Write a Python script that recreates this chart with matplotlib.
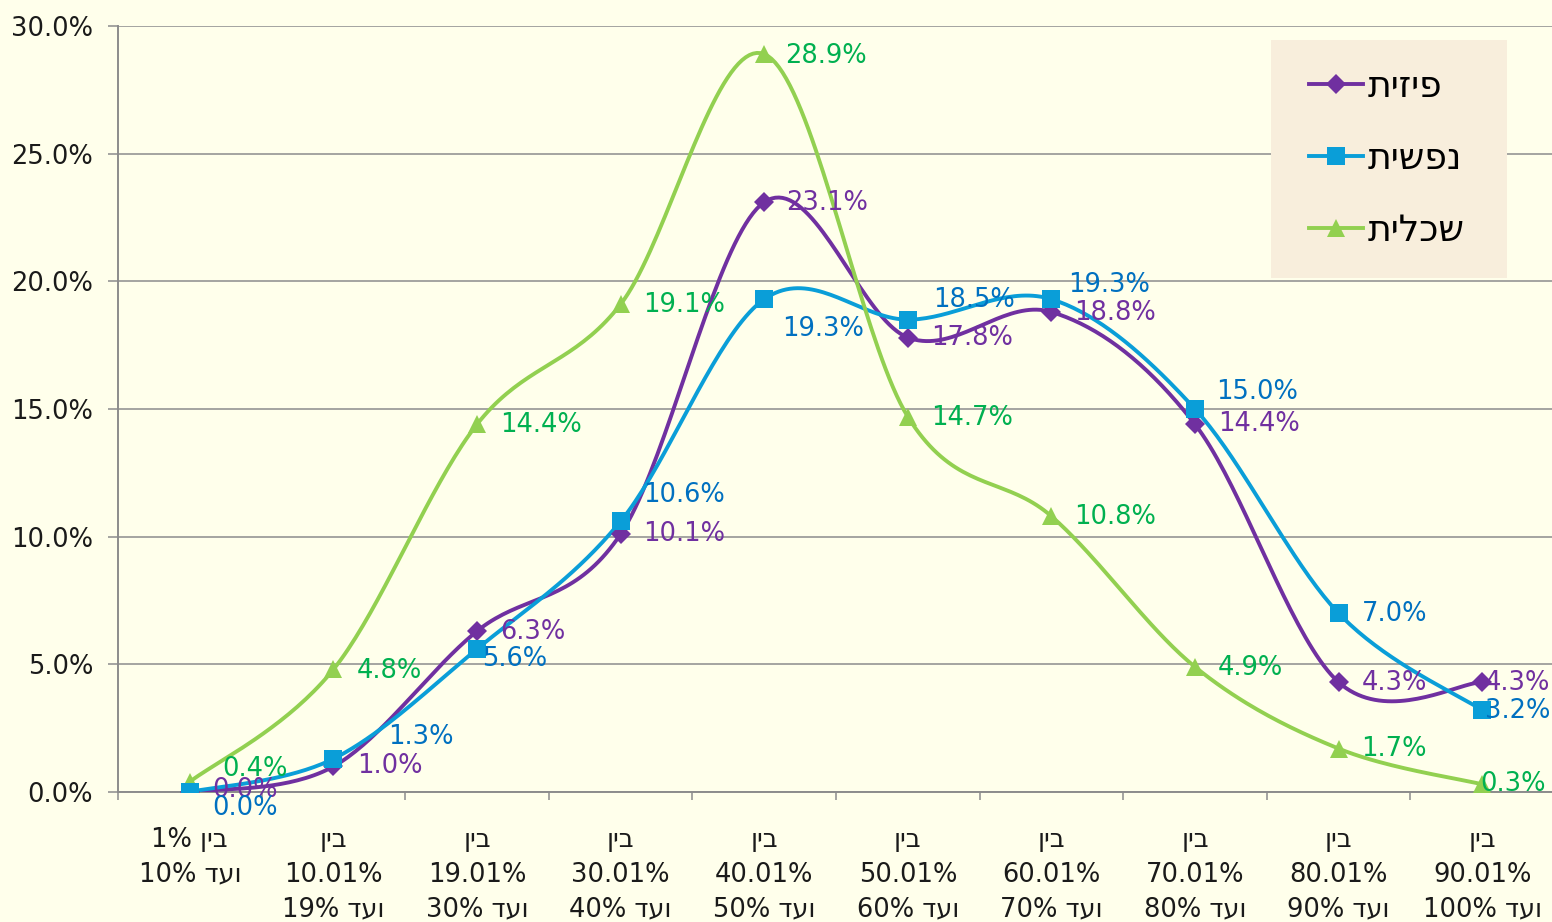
import numpy as np
import matplotlib.pyplot as plt
from matplotlib.patches import Rectangle
from matplotlib.lines import Line2D
from matplotlib.ticker import FuncFormatter, FixedLocator

plt.rcParams['font.family'] = ['DejaVu Sans', 'Liberation Sans']

# data
categories = [
    "בין 1%\nועד 10%",
    "בין\n10.01%\nועד 19%",
    "בין\n19.01%\nועד 30%",
    "בין\n30.01%\nועד 40%",
    "בין\n40.01%\nועד 50%",
    "בין\n50.01%\nועד 60%",
    "בין\n60.01%\nועד 70%",
    "בין\n70.01%\nועד 80%",
    "בין\n80.01%\nועד 90%",
    "בין\n90.01%\nועד 100%",
]
series_names = ['פיזית', 'נפשית', 'שכלית']
physical = [0.0, 1.0, 6.3, 10.1, 23.1, 17.8, 18.8, 14.4, 4.3, 4.3]
mental = [0.0, 1.3, 5.6, 10.6, 19.3, 18.5, 19.3, 15.0, 7.0, 3.2]
intellectual = [0.4, 4.8, 14.4, 19.1, 28.9, 14.7, 10.8, 4.9, 1.7, 0.3]

# style
line_colors = ['#7030A0', '#0A9ED8', '#92D050']
label_colors = ['#7030A0', '#0070C0', '#00B050']
markers = ['D', 's', '^']
marker_sizes = [10.5, 13, 13]
line_z = [3.0, 3.1, 3.2]
marker_z = [4.0, 4.2, 4.1]
# data label offsets in pixels (dx, dy)
label_offsets = [
    [(22, 2), (24, 0), (23, -1), (23, 0), (22, -1), (23, 0), (23, -1), (23, 0), (23, -1), (3, -1)],
    [(22, -16), (55, 22), (5, -10), (23, 26), (18, -30), (25, 20), (17, 14), (21, 17), (23, -1), (3, -1)],
    [(32, 13), (23, -2), (23, -1), (23, -1), (21, -2), (23, -1), (23, -1), (23, -1), (23, 0), (-2, 0)],
]
BG = '#FFFFEB'
GRID = '#8C8C8C'
FS = 18.5


def visual(text):
    # matplotlib has no bidi support, so put RTL words into display order
    out = []
    for line in text.split('\n'):
        words = line.split(' ')[::-1]
        words = [w[::-1] if any('\u0590' <= c <= '\u05ff' for c in w) else w
                 for w in words]
        out.append(' '.join(words))
    return '\n'.join(out)


def smooth(x, y, n=40):
    # Excel-like smoothed line (Catmull-Rom style bezier)
    pts = np.column_stack([x, y]).astype(float)
    ext = np.vstack([pts[0], pts, pts[-1]])
    t = np.linspace(0, 1, n)[:, None]
    segs = []
    for i in range(len(pts) - 1):
        p0, p1, p2, p3 = ext[i], ext[i + 1], ext[i + 2], ext[i + 3]
        c1 = p1 + (p2 - p0) / 6
        c2 = p2 - (p3 - p1) / 6
        b = ((1 - t) ** 3) * p1 + 3 * ((1 - t) ** 2) * t * c1 \
            + 3 * (1 - t) * t ** 2 * c2 + t ** 3 * p2
        segs.append(b if i == 0 else b[1:])
    s = np.vstack(segs)
    return s[:, 0], s[:, 1]


W, H = 1552, 922
fig = plt.figure(figsize=(W / 100, H / 100), dpi=100, facecolor=BG)
ax = fig.add_axes([118 / W, 1 - 792 / H, (1554 - 118) / W, (792 - 26) / H])
ax.set_facecolor(BG)

x = np.arange(len(categories))
all_series = [physical, mental, intellectual]
for i, vals in enumerate(all_series):
    sx, sy = smooth(x, vals)
    ax.plot(sx, sy, color=line_colors[i], lw=2.8, zorder=line_z[i],
            solid_capstyle='round')
    ax.plot(x, vals, ls='none', marker=markers[i], ms=marker_sizes[i],
            color=line_colors[i], zorder=marker_z[i], markeredgewidth=0)
    for xi, v, (dx, dy) in zip(x, vals, label_offsets[i]):
        ax.annotate(f'{v:.1f}%', (xi, v), xytext=(dx, dy),
                    textcoords='offset pixels', ha='left', va='center',
                    fontsize=FS, color=label_colors[i], zorder=6)

ax.set_xlim(-0.5, len(categories) - 0.5)
ax.set_ylim(0, 30)
ax.set_yticks(np.arange(0, 31, 5))
ax.yaxis.set_major_formatter(FuncFormatter(lambda v, p: f'{v:.1f}%'))
ax.set_xticks(x)
ax.set_xticklabels([visual(c) for c in categories], fontsize=FS,
                   linespacing=1.45, color='#1A1A1A')
ax.xaxis.set_minor_locator(FixedLocator(np.arange(-0.5, len(categories), 1)))
ax.tick_params(axis='x', which='major', length=0, pad=25)
ax.tick_params(axis='x', which='minor', length=6, width=1.1, color=GRID,
               direction='out')
ax.tick_params(axis='y', length=7, width=1.1, color=GRID, pad=11,
               labelsize=FS, labelcolor='#1A1A1A')
ax.grid(axis='y', color=GRID, lw=1.1)
ax.set_axisbelow(True)
for s in ['top', 'right']:
    ax.spines[s].set_visible(False)
for s in ['left', 'bottom']:
    ax.spines[s].set_color(GRID)
    ax.spines[s].set_linewidth(1.4)

# legend box
fig.patches.append(Rectangle((1271 / W, 1 - 278 / H), (1507 - 1271) / W,
                             (278 - 40) / H, transform=fig.transFigure,
                             facecolor='#F8EEDC', edgecolor='none', zorder=10))
handles = [Line2D([], [], color=lc, lw=2.8, marker=mk, ms=ms,
                  markeredgewidth=0)
           for lc, mk, ms in zip(line_colors, markers, marker_sizes)]
leg = fig.legend(handles, [visual(n) for n in series_names], loc='center',
                 bbox_to_anchor=(1387 / W, 1 - 159 / H), frameon=False,
                 fontsize=26, handlelength=1.5, handletextpad=0.12,
                 labelspacing=1.05)
leg.set_zorder(11)

fig.savefig('out.png', dpi=100, facecolor=BG)
